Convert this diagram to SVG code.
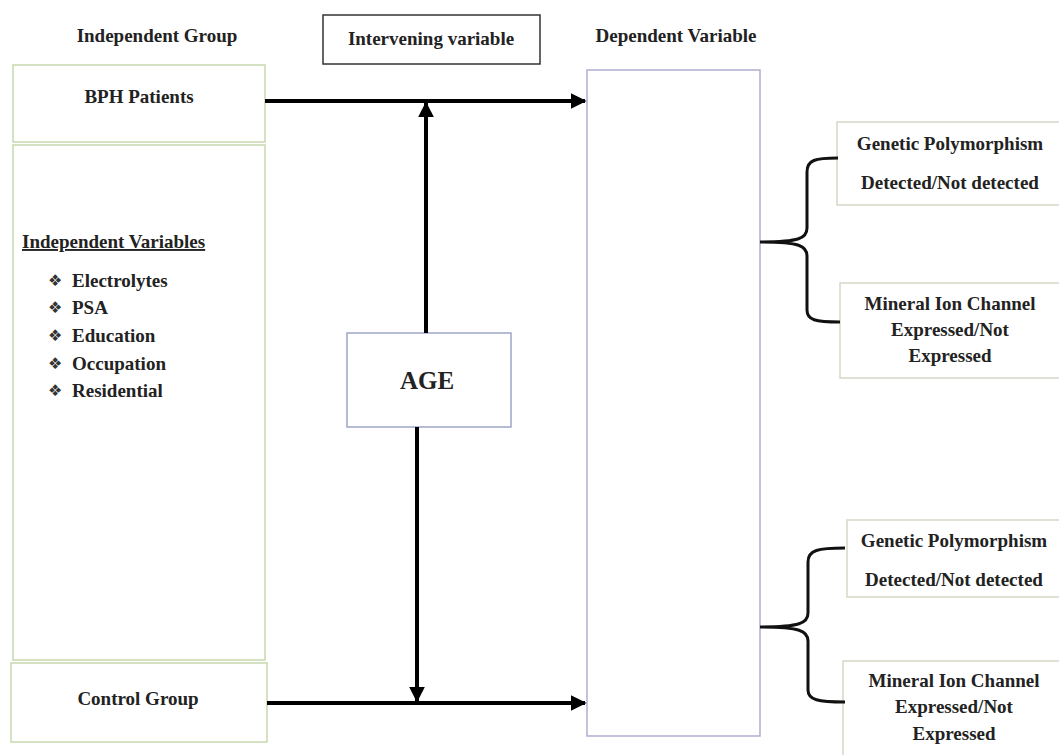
<svg xmlns="http://www.w3.org/2000/svg" width="1059" height="755" viewBox="0 0 1059 755">
<style>
text{font-family:"Liberation Serif","Times New Roman",serif;font-weight:bold;fill:#222;font-size:19px}
.c{text-anchor:middle}
.g{fill:#fff;stroke:#c6d9ad;stroke-width:1.5}
.r{fill:#fff;stroke:#d3d9c6;stroke-width:1.5}
.ln{stroke:#000;stroke-width:4;fill:none}
.br{stroke:#111;stroke-width:3;fill:none}
.b{font-family:"DejaVu Sans",sans-serif;font-size:16px;font-weight:normal;fill:#333;font-variant-emoji:text}
</style>
<defs>
<marker id="ah" viewBox="0 0 10 10" refX="9" refY="5" markerWidth="4" markerHeight="4" orient="auto" markerUnits="strokeWidth">
<path d="M0,0 L10,5 L0,10 z" fill="#000"/>
</marker>
</defs>
<rect width="1059" height="755" fill="#fff"/>
<text class="c" x="157" y="42">Independent Group</text>
<text class="c" x="676" y="42">Dependent Variable</text>
<g id="intervening"><rect x="323" y="15" width="217" height="49" fill="#fff" stroke="#333" stroke-width="1.5"/><text class="c" x="431" y="45">Intervening variable</text></g>
<g id="bph"><rect class="g" x="13" y="65" width="252" height="77"/><text class="c" x="139" y="103">BPH Patients</text></g>
<g id="indep"><rect class="g" x="13" y="145" width="252" height="515"/>
<text x="22" y="248" text-decoration="underline">Independent Variables</text>
<text class="b" x="48" y="286">❖︎</text><text x="72" y="287">Electrolytes</text>
<text class="b" x="48" y="313">❖︎</text><text x="72" y="314">PSA</text>
<text class="b" x="48" y="341">❖︎</text><text x="72" y="342">Education</text>
<text class="b" x="48" y="369">❖︎</text><text x="72" y="370">Occupation</text>
<text class="b" x="48" y="396">❖︎</text><text x="72" y="397">Residential</text>
</g>
<g id="control"><rect class="g" x="11" y="663" width="256" height="79"/><text class="c" x="138" y="705">Control Group</text></g>
<g id="dependent"><rect x="587" y="70" width="173" height="666" fill="#fff" stroke="#aeaed2" stroke-width="1.5"/></g>
<g id="age"><rect x="347" y="333" width="164" height="94" fill="#fff" stroke="#9ea6c8" stroke-width="1.5"/><text class="c" x="427" y="389" style="font-size:25px">AGE</text></g>
<g id="gen1"><rect class="r" x="837" y="122" width="230" height="83"/><text class="c" x="950" y="150">Genetic Polymorphism</text><text class="c" x="950" y="189">Detected/Not detected</text></g>
<g id="min1"><rect class="r" x="840" y="283" width="230" height="95"/><text class="c" x="950" y="310">Mineral Ion Channel</text><text class="c" x="950" y="336">Expressed/Not</text><text class="c" x="950" y="362">Expressed</text></g>
<g id="gen2"><rect class="r" x="847" y="520" width="230" height="77"/><text class="c" x="954" y="547">Genetic Polymorphism</text><text class="c" x="954" y="586">Detected/Not detected</text></g>
<g id="min2"><rect class="r" x="843" y="661" width="230" height="100"/><text class="c" x="954" y="687">Mineral Ion Channel</text><text class="c" x="954" y="713">Expressed/Not</text><text class="c" x="954" y="740">Expressed</text></g>
<g id="connectors">
<line class="ln" x1="265" y1="101" x2="585" y2="101" marker-end="url(#ah)"/>
<line class="ln" x1="426" y1="333" x2="426" y2="103" marker-end="url(#ah)"/>
<line class="ln" x1="267" y1="703" x2="585" y2="703" marker-end="url(#ah)"/>
<line class="ln" x1="417" y1="427" x2="417" y2="701" marker-end="url(#ah)"/>
<path class="br" d="M838,158 C815,158 807,160 807,172 L807,228 C807,238 800,242 760,242 C800,242 807,246 807,256 L807,310 C807,320 815,322 840,322"/>
<path class="br" d="M845,548 C818,548 808,550 808,562 L808,613 C808,623 800,627 760,627 C800,627 808,631 808,641 L808,690 C808,700 818,702 845,702"/>
</g>
</svg>
